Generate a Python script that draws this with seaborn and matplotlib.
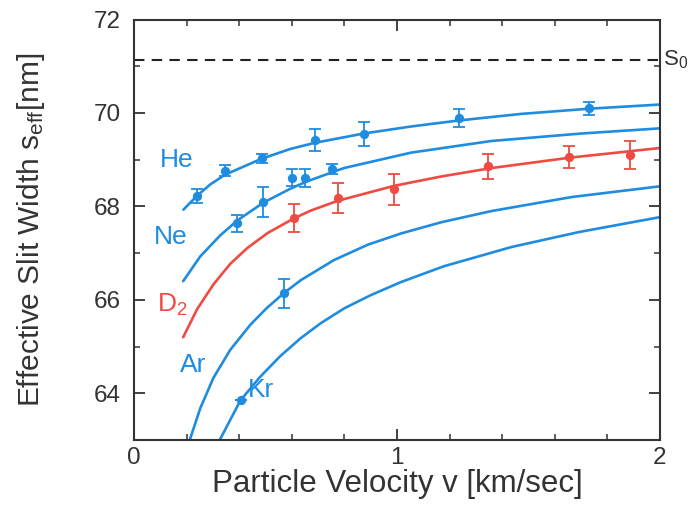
import numpy as np
import pandas as pd
import matplotlib
matplotlib.use("Agg")
import matplotlib.pyplot as plt
from matplotlib.ticker import MultipleLocator
import seaborn as sns

# ---- data ----
# fitted curves
he_curve_v = [0.188, 0.240, 0.290, 0.347, 0.485, 0.595, 0.687, 0.874, 1.053, 1.237, 1.473, 1.729, 2.0]
he_curve_s = [67.93, 68.23, 68.47, 68.68, 69.02, 69.23, 69.36, 69.56, 69.71, 69.84, 69.98, 70.09, 70.18]

ne_curve_v = [0.187, 0.252, 0.328, 0.393, 0.492, 0.595, 0.660, 0.798, 1.053, 1.359, 1.702, 2.0]
ne_curve_s = [66.40, 66.93, 67.38, 67.70, 68.08, 68.38, 68.54, 68.82, 69.15, 69.40, 69.56, 69.67]

d2_curve_v = [0.187, 0.240, 0.302, 0.366, 0.431, 0.508, 0.607, 0.672, 0.775, 0.989, 1.168, 1.359, 1.653, 2.0]
d2_curve_s = [65.20, 65.80, 66.33, 66.77, 67.11, 67.43, 67.74, 67.91, 68.12, 68.44, 68.64, 68.82, 69.04, 69.25]

ar_curve_v = [0.212, 0.252, 0.302, 0.366, 0.443, 0.504, 0.569, 0.634, 0.760, 0.889, 1.015, 1.168, 1.359, 1.664, 2.0]
ar_curve_s = [63.00, 63.68, 64.33, 64.93, 65.47, 65.82, 66.14, 66.42, 66.85, 67.18, 67.42, 67.66, 67.90, 68.20, 68.43]

kr_curve_v = [0.326, 0.405, 0.481, 0.557, 0.634, 0.710, 0.800, 0.900, 1.015, 1.179, 1.435, 1.691, 2.0]
kr_curve_s = [63.00, 63.85, 64.36, 64.80, 65.18, 65.50, 65.82, 66.10, 66.38, 66.72, 67.13, 67.45, 67.77]

# measured points with error bars
he_v = [0.240, 0.347, 0.485, 0.687, 0.874, 1.237, 1.729]
he_s = [68.22, 68.76, 69.03, 69.42, 69.55, 69.89, 70.10]
he_err = [0.15, 0.12, 0.10, 0.23, 0.25, 0.20, 0.14]

ne_v = [0.393, 0.492, 0.599, 0.649, 0.752]
ne_s = [67.64, 68.09, 68.61, 68.61, 68.80]
ne_err = [0.18, 0.32, 0.18, 0.20, 0.10]

d2_v = [0.607, 0.775, 0.989, 1.347, 1.653, 1.885]
d2_s = [67.75, 68.18, 68.37, 68.86, 69.06, 69.10]
d2_err = [0.30, 0.32, 0.33, 0.27, 0.23, 0.30]

ar_v = [0.569]
ar_s = [66.14]
ar_err = [0.31]

kr_v = [0.405]
kr_s = [63.85]
kr_err = [0.0]

s0_value = 71.13

labels = ["He", "Ne", "D$_2$", "Ar", "Kr"]
label_pos_v = [0.164, 0.141, 0.145, 0.225, 0.481]
label_pos_s = [68.99, 67.34, 65.89, 64.60, 64.07]

BLUE = "#1f8ce0"
RED = "#ef4b42"
GREY = "#333333"

sns.set_style("ticks")
plt.rcParams["font.family"] = ["Liberation Sans", "DejaVu Sans"]
plt.rcParams["mathtext.fontset"] = "custom"
plt.rcParams["mathtext.rm"] = "Liberation Sans"
plt.rcParams["mathtext.it"] = "Liberation Sans"

fig = plt.figure(figsize=(6.97, 5.05), dpi=100)
ax = fig.add_axes([134/697, 1-440/505, (660-134)/697, (440-19.5)/505])

curves = [
    (he_curve_v, he_curve_s, BLUE),
    (ne_curve_v, ne_curve_s, BLUE),
    (d2_curve_v, d2_curve_s, RED),
    (ar_curve_v, ar_curve_s, BLUE),
    (kr_curve_v, kr_curve_s, BLUE),
]
for v, s, c in curves:
    df = pd.DataFrame({"v": v, "s": s})
    sns.lineplot(data=df, x="v", y="s", color=c, lw=1.9, ax=ax, sort=False)

pts = [
    (he_v, he_s, he_err, BLUE),
    (ne_v, ne_s, ne_err, BLUE),
    (d2_v, d2_s, d2_err, RED),
    (ar_v, ar_s, ar_err, BLUE),
    (kr_v, kr_s, kr_err, BLUE),
]
for v, s, e, c in pts:
    ax.errorbar(v, s, yerr=e, fmt="none", ecolor=c, elinewidth=1.3, capsize=4.5, capthick=1.3)
    df = pd.DataFrame({"v": v, "s": s})
    sns.scatterplot(data=df, x="v", y="s", color=c, s=45, edgecolor=c, linewidth=0, ax=ax, zorder=5)

ax.axhline(s0_value, color="#222222", lw=1.5, ls=(0, (5, 3.5)))
ax.text(1.006, s0_value, "S$_0$", transform=ax.get_yaxis_transform(), fontsize=16,
        color=GREY, va="center", ha="left")

for lab, lv, ls_, col in zip(labels, label_pos_v, label_pos_s, [BLUE, BLUE, RED, BLUE, BLUE]):
    ax.text(lv, ls_, lab, color=col, fontsize=19, ha="center", va="center")

ax.set_xlim(0, 2)
ax.set_ylim(63, 72)
ax.xaxis.set_major_locator(MultipleLocator(1))
ax.xaxis.set_minor_locator(MultipleLocator(0.2))
ax.yaxis.set_major_locator(MultipleLocator(2))
ax.yaxis.set_minor_locator(MultipleLocator(1))
ax.tick_params(which="both", direction="in", top=True, right=True, colors=GREY,
               labelcolor=GREY, labelsize=17.5)
ax.tick_params(which="major", length=8, width=1.3)
ax.tick_params(which="minor", length=4, width=1.1)
ax.tick_params(axis="y", which="major", pad=9.5)
ax.tick_params(axis="x", which="major", pad=5)
ax.set_yticks([64, 66, 68, 70, 72])
for sp in ax.spines.values():
    sp.set_color(GREY)
    sp.set_linewidth(1.5)

ax.set_xlabel("Particle Velocity v [km/sec]", fontsize=22.5, color=GREY)
ax.set_ylabel("Effective Slit Width s$_{\\mathrm{eff}}$[nm]", fontsize=21.5, color=GREY)
ax.xaxis.set_label_coords(0.5, -0.069)
ax.yaxis.set_label_coords(-0.165, 0.5)

fig.savefig("out.png", dpi=100)
